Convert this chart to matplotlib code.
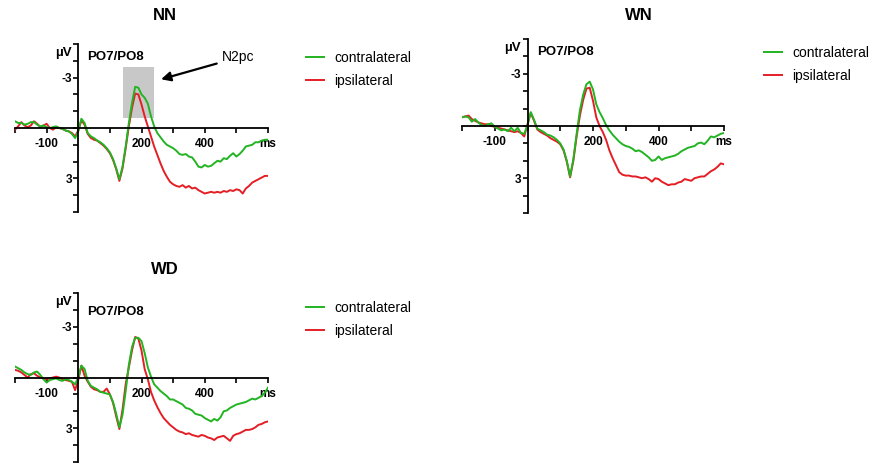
import numpy as np
import matplotlib
matplotlib.use('Agg')
import matplotlib.pyplot as plt
from matplotlib.patches import Rectangle

plt.rcParams['font.family'] = ['Liberation Sans', 'DejaVu Sans']

# --- data (µV, negative plotted upward), sampled every 10 ms from -200 to 600 ---
time_ms = np.arange(-200, 601, 10)

nn_contra = [-0.4, -0.3, -0.3, -0.2, -0.25, -0.35, -0.35, -0.2, -0.1, -0.15,
             -0.05, 0.0, -0.05, -0.1, 0.0, 0.05, 0.15, 0.2, 0.35, 0.6,
             0.2, -0.55, -0.3, 0.3, 0.5, 0.6, 0.75, 0.85, 1.0, 1.2,
             1.45, 1.85, 2.4, 3.05, 2.3, 1.1, -0.3, -1.5, -2.45, -2.4,
             -2.0, -1.8, -1.45, -0.7, -0.1, 0.3, 0.55, 0.8, 1.0, 1.1,
             1.2, 1.35, 1.55, 1.6, 1.55, 1.7, 1.75, 2.0, 2.3, 2.35,
             2.2, 2.3, 2.25, 2.1, 1.95, 2.0, 1.8, 1.85, 1.65, 1.5,
             1.7, 1.55, 1.35, 1.1, 1.05, 1.0, 0.85, 0.85, 0.75, 0.7,
             0.7]
nn_ipsi = [0.1, -0.1, -0.35, -0.15, -0.05, -0.15, -0.4, -0.25, -0.05, -0.15,
           -0.25, 0.0, 0.1, -0.05, 0.0, 0.05, 0.15, 0.2, 0.3, 0.5,
           0.15, -0.45, -0.2, 0.35, 0.6, 0.7, 0.75, 0.9, 1.05, 1.25,
           1.5, 1.9, 2.45, 3.15, 2.4, 1.2, -0.1, -1.2, -2.05, -2.0,
           -1.4, -0.7, -0.1, 0.5, 1.1, 1.6, 2.1, 2.55, 2.9, 3.2,
           3.35, 3.45, 3.5, 3.4, 3.55, 3.45, 3.6, 3.55, 3.7, 3.8,
           3.9, 3.85, 3.8, 3.85, 3.8, 3.85, 3.75, 3.8, 3.7, 3.75,
           3.65, 3.7, 3.9, 3.6, 3.45, 3.25, 3.15, 3.05, 2.95, 2.85,
           2.85]

wn_contra = [-0.5, -0.55, -0.5, -0.25, -0.4, -0.2, -0.05, 0.0, -0.1, -0.15,
             0.05, 0.15, 0.25, 0.2, 0.3, 0.1, 0.3, 0.1, 0.4, 0.45,
             -0.05, -0.8, -0.35, 0.15, 0.25, 0.35, 0.5, 0.55, 0.65, 0.8,
             1.0, 1.35, 2.0, 2.9, 1.9, 0.45, -0.9, -1.8, -2.4, -2.55,
             -2.1, -1.25, -0.8, -0.45, -0.05, 0.25, 0.5, 0.7, 0.9, 1.05,
             1.15, 1.2, 1.3, 1.45, 1.4, 1.5, 1.65, 1.8, 2.0, 1.95,
             1.75, 1.95, 1.85, 1.8, 1.75, 1.7, 1.6, 1.45, 1.35, 1.25,
             1.2, 1.15, 1.0, 0.95, 1.05, 0.85, 0.6, 0.65, 0.55, 0.45,
             0.4]
wn_ipsi = [-0.5, -0.55, -0.6, -0.4, -0.3, -0.2, -0.15, -0.1, -0.1, 0.0,
           0.05, 0.1, 0.15, 0.2, 0.25, 0.3, 0.35, 0.3, 0.4, 0.6,
           -0.1, -0.75, -0.3, 0.2, 0.35, 0.45, 0.55, 0.7, 0.8, 0.9,
           1.05, 1.4, 2.05, 2.95, 2.0, 0.6, -0.6, -1.5, -2.15, -2.2,
           -1.45, -0.5, 0.0, 0.35, 0.8, 1.4, 1.85, 2.25, 2.65, 2.8,
           2.85, 2.85, 2.9, 2.9, 2.95, 3.0, 2.95, 3.05, 3.2, 3.0,
           3.05, 3.2, 3.3, 3.4, 3.35, 3.35, 3.25, 3.2, 3.05, 3.1,
           3.15, 3.0, 2.95, 2.9, 2.9, 2.75, 2.6, 2.5, 2.35, 2.15,
           2.2]

wd_contra = [-0.65, -0.55, -0.45, -0.3, -0.2, -0.15, -0.3, -0.35, -0.15, 0.1,
             0.3, 0.15, 0.1, 0.05, 0.15, 0.2, 0.1, 0.15, 0.25, 0.4,
             0.0, -0.7, -0.5, 0.2, 0.5, 0.6, 0.7, 0.85, 0.9, 0.95,
             1.0, 1.45, 2.15, 2.95, 2.2, 0.8, -0.75, -1.8, -2.35, -2.35,
             -2.15, -1.45, -0.6, -0.05, 0.4, 0.6, 0.8, 0.95, 1.1, 1.3,
             1.3, 1.4, 1.5, 1.6, 1.8, 1.85, 1.95, 2.15, 2.2, 2.25,
             2.4, 2.5, 2.6, 2.45, 2.55, 2.35, 2.0, 1.95, 1.8, 1.7,
             1.6, 1.55, 1.5, 1.45, 1.35, 1.25, 1.3, 1.2, 1.1, 0.9,
             0.6]
wd_ipsi = [-0.45, -0.4, -0.3, -0.15, 0.0, -0.2, -0.25, -0.1, 0.0, 0.05,
           0.1, 0.05, 0.0, -0.05, 0.0, 0.1, 0.15, 0.2, 0.25, 0.75,
           0.15, -0.7, -0.1, 0.25, 0.55, 0.7, 0.75, 0.85, 0.85, 0.65,
           1.0, 1.5, 2.3, 3.05, 1.9, 0.4, -0.6, -1.6, -2.4, -2.3,
           -1.6, -0.5, 0.1, 0.85, 1.35, 1.75, 2.1, 2.4, 2.6, 2.8,
           2.95, 3.1, 3.2, 3.25, 3.35, 3.3, 3.4, 3.45, 3.5, 3.4,
           3.45, 3.55, 3.6, 3.7, 3.55, 3.5, 3.45, 3.6, 3.75, 3.45,
           3.35, 3.3, 3.2, 3.1, 3.1, 3.05, 2.95, 2.8, 2.75, 2.65,
           2.6]

x_ticks = list(range(-200, 601, 100))
x_tick_labels = ['', '-100', '', '', '200', '', '400', '', 'ms']
y_ticks = list(range(-5, 6))
y_tick_labels = ['' if v not in (-3, 3) else str(v) for v in y_ticks]

GREEN = '#22B422'
RED = '#E41E25'

W, H = 874, 463


def box(left, top, right, bottom):
    # pixel box -> figure fraction [l, b, w, h]
    return [left / W, 1 - bottom / H, (right - left) / W, (bottom - top) / H]


fig = plt.figure(figsize=(W / 100, H / 100), dpi=100)

# title, contra, ipsi, axes px box, title px, legend top-left px, PO7/PO8 px
panels = [
    ('NN', nn_contra, nn_ipsi, (15, 44, 268, 212), (165, 15), (306, 51), (87, 57)),
    ('WN', wn_contra, wn_ipsi, (462, 39, 724, 213), (639, 15), (764, 46), (537, 52)),
    ('WD', wd_contra, wd_ipsi, (15, 293, 268, 462), (165, 270), (306, 301), (87, 312)),
]

for name, contra, ipsi, axbox, tpos, lpos, ppos in panels:
    ax = fig.add_axes(box(*axbox))
    red_line, = ax.plot(time_ms, ipsi, color=RED, lw=1.4, label='ipsilateral',
                        solid_joinstyle='round')
    green_line, = ax.plot(time_ms, contra, color=GREEN, lw=1.4, label='contralateral',
                          solid_joinstyle='round')

    ax.set_xlim(-200, 600)
    ax.set_ylim(5, -5)
    ax.set_facecolor('none')
    for s in ('top', 'right'):
        ax.spines[s].set_visible(False)
    ax.spines['left'].set_position(('data', 0))
    ax.spines['bottom'].set_position(('data', 0))
    ax.spines['left'].set_linewidth(1.3)
    ax.spines['bottom'].set_linewidth(1.3)

    ax.set_xticks(x_ticks)
    ax.set_xticklabels(x_tick_labels, fontsize=8.5, fontweight='bold')
    ax.set_yticks(y_ticks)
    ax.set_yticklabels(y_tick_labels, fontsize=8.5, fontweight='bold')
    ax.tick_params(axis='x', direction='out', length=3.5, width=1.2, pad=4)
    ax.tick_params(axis='y', direction='out', length=3.5, width=1.2, pad=1)

    # µV label at top of y axis
    ax.annotate('µV', xy=(0, -5), xycoords='data', xytext=(-5, -6.5),
                textcoords='offset points', ha='right', va='center',
                fontsize=9.5, fontweight='bold')

    fig.text(tpos[0] / W, 1 - tpos[1] / H, name, ha='center', va='center',
             fontsize=12, fontweight='bold')
    fig.text(ppos[0] / W, 1 - ppos[1] / H, 'PO7/PO8', ha='left', va='center',
             fontsize=9.5, fontweight='bold')

    ax.legend(handles=[green_line, red_line], loc='upper left',
              bbox_to_anchor=(lpos[0] / W, 1 - lpos[1] / H),
              bbox_transform=fig.transFigure, frameon=False, fontsize=10,
              handlelength=1.3, handletextpad=0.75, labelspacing=0.62,
              borderpad=0, borderaxespad=0)

    if name == 'NN':
        # N2pc window
        ax.add_patch(Rectangle((142, -3.65), 98, 3.05, facecolor='#C8C8C8',
                               edgecolor='none', zorder=0))
        ax.annotate('N2pc', xy=(262, -2.9), xytext=(455, -4.2),
                    fontsize=10, ha='left', va='center',
                    arrowprops=dict(arrowstyle='-|>', color='black', lw=1.6,
                                    mutation_scale=14, shrinkA=2, shrinkB=0))

fig.savefig('out.png', dpi=100, facecolor='white')
